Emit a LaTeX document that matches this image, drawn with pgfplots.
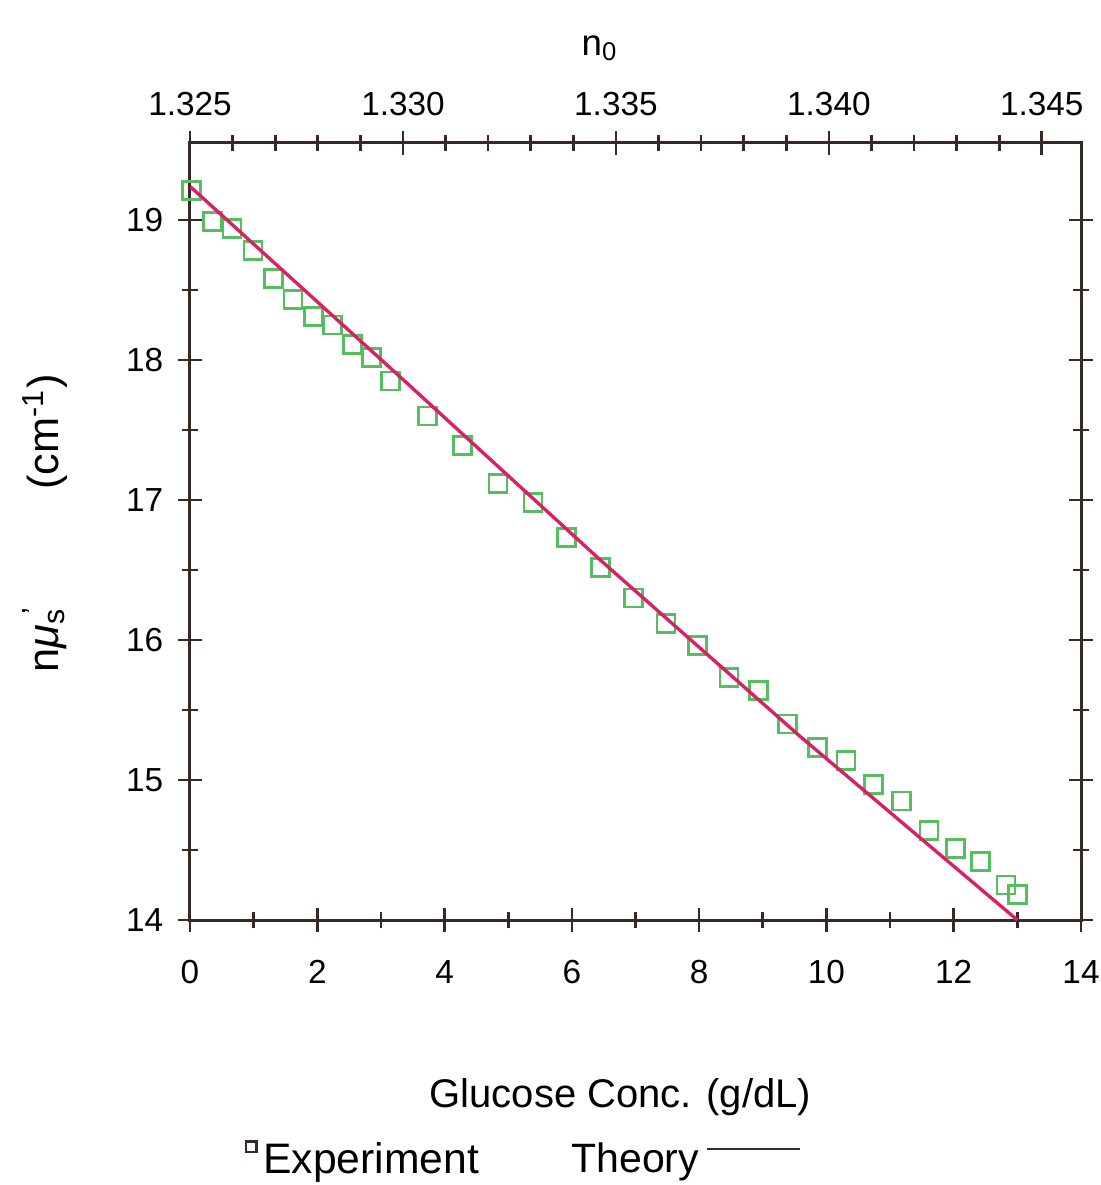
\documentclass[border=0pt]{standalone}
\usepackage{fontspec}
\setmainfont{Liberation Sans}
\usepackage{pgfplots}
\pgfplotsset{compat=1.18}

\definecolor{expgreen}{RGB}{85,190,95}
\definecolor{theorypink}{RGB}{220,30,100}
\definecolor{axbrown}{RGB}{55,42,38}

\pgfplotstableread{
x y
0.02 19.21
0.35 18.99
0.66 18.94
0.99 18.78
1.31 18.58
1.62 18.43
1.94 18.31
2.24 18.25
2.55 18.11
2.85 18.02
3.15 17.85
3.73 17.60
4.28 17.39
4.84 17.12
5.39 16.98
5.92 16.73
6.45 16.52
6.97 16.30
7.48 16.12
7.97 15.96
8.47 15.73
8.93 15.64
9.39 15.40
9.86 15.23
10.31 15.14
10.74 14.97
11.18 14.85
11.61 14.64
12.03 14.51
12.42 14.42
12.82 14.25
13.00 14.18
}\experiment

\pgfplotstableread{
x y
0.00 19.24
3.30 17.88
6.45 16.57
9.59 15.31
13.00 14.00
}\theory

\pgfplotsset{
  frame/.style={scale only axis, width=267.3pt, height=233.1pt,
    at={(0,0)}, anchor=south west,
    ymin=14, ymax=19.55,
    axis line style={axbrown, line width=0.9pt},
    tick style={axbrown, line width=0.8pt},
    tick align=center,
    major tick length=7pt, minor tick length=5pt,
    tick label style={font=\fontsize{10}{12}\selectfont},
    /pgf/number format/assume math mode=true},
}

\begin{document}
\begin{tikzpicture}
\useasboundingbox (-57pt,-79.5pt) rectangle (273pt,276pt);

% main axis: glucose concentration
\begin{axis}[frame, clip=false,
  xmin=0, xmax=14,
  xtick={0,2,...,14}, minor x tick num=1,
  ytick={14,15,...,19}, minor y tick num=1,
  xtick pos=left, xticklabel pos=left,
  ytick pos=both, yticklabel pos=left,
  xticklabel style={yshift=-5pt},
  yticklabel style={xshift=-1pt},
  xlabel={Glucose Conc. (g/dL)},
  xlabel style={at={(axis description cs:0.483,-0.228)}, anchor=center,
    font=\fontsize{12}{14}\selectfont},
  legend style={at={(axis description cs:0.062,-0.309)}, anchor=west,
    draw=none, fill=none, inner sep=0pt, font=\fontsize{12.8}{14}\selectfont},
  legend image code/.code={\draw[#1] plot coordinates {(0.12cm,0.14cm)};},
  legend image post style={axbrown, mark size=1.6pt, line width=0.6pt},
]
\addplot[only marks, mark=square, mark size=2.7pt, draw=expgreen,
  mark options={line width=0.8pt}] table {\experiment};
\addlegendentry{Experiment}

\node[rotate=90, anchor=base, font=\fontsize{13}{15}\selectfont]
  at (rel axis cs:-0.148,0.36) {n\textit{μ}\rlap{\textsuperscript{\,\,'}}\textsubscript{s}};
\node[rotate=90, anchor=base, font=\fontsize{13}{15}\selectfont]
  at (rel axis cs:-0.148,0.628) {(cm\textsuperscript{-1})};
\end{axis}

% top axis: refractive index n0
\begin{axis}[frame,
  xmin=1.325, xmax=1.34592,
  axis x line*=top, hide y axis,
  xtick={1.325,1.330,1.335,1.340,1.345}, minor x tick num=4,
  scaled x ticks=false,
  xticklabel style={yshift=1pt, /pgf/number format/.cd, fixed, fixed zerofill, precision=3},
  xlabel={n\textsubscript{0}},
  xlabel style={at={(axis description cs:0.46,1.122)}, anchor=center,
    font=\fontsize{11}{13}\selectfont},
]
\addplot[draw=none] coordinates {(1.33,15)};
\end{axis}

% theory line, drawn on top
\begin{axis}[frame,
  xmin=0, xmax=14, hide axis,
  legend style={at={(axis description cs:0.42,-0.309)}, anchor=west,
    draw=none, fill=none, inner sep=0pt, font=\fontsize{12.3}{14}\selectfont},
  legend plot pos=right,
  legend image code/.code={\draw[#1] (-5pt,0.12cm) -- (23pt,0.12cm);},
  legend image post style={axbrown, line width=0.7pt},
]
\addplot[theorypink, line width=1pt] table {\theory};
\addlegendentry{Theory}
\end{axis}
\end{tikzpicture}
\end{document}
